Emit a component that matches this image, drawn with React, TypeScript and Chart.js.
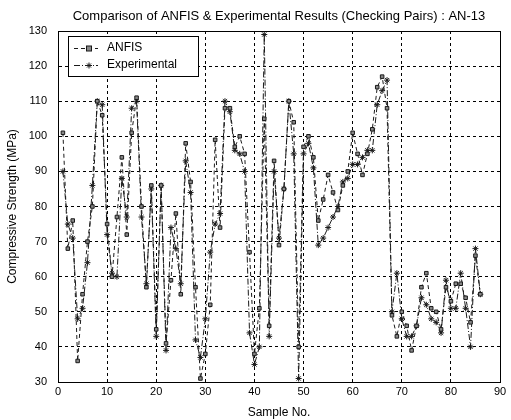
import React, { useEffect, useRef } from "react";
import { Chart, registerables } from "chart.js";

Chart.register(...registerables);

const chartTitle = "Comparison of ANFIS & Experimental Results (Checking Pairs) : AN-13";
const xAxisTitle = "Sample No.";
const yAxisTitle = "Compressive Strength (MPa)";
const seriesNames = ["ANFIS", "Experimental"];

const sampleNo = [
  1, 2, 3, 4, 5, 6, 7, 8, 9, 10, 11, 12, 13, 14, 15, 16, 17, 18, 19, 20,
  21, 22, 23, 24, 25, 26, 27, 28, 29, 30, 31, 32, 33, 34, 35, 36, 37, 38, 39, 40,
  41, 42, 43, 44, 45, 46, 47, 48, 49, 50, 51, 52, 53, 54, 55, 56, 57, 58, 59, 60,
  61, 62, 63, 64, 65, 66, 67, 68, 69, 70, 71, 72, 73, 74, 75, 76, 77, 78, 79, 80,
  81, 82, 83, 84, 85, 86,
];

const anfis = [
  101, 68, 76, 36, 55, 70, 80, 110, 106, 75, 60, 77, 94, 72, 101, 111, 80, 57, 86, 45,
  86, 41, 59, 78, 55, 98, 87, 57, 31, 38, 52, 99, 74, 108, 108, 97, 100, 95, 67, 38,
  51, 105, 46, 93, 69, 85, 110, 104, 40, 97, 100, 94, 76, 82, 89, 84, 79, 86, 90, 101,
  95, 89, 95, 102, 114, 117, 108, 49, 43, 50, 46, 39, 46, 57, 61, 51, 50, 45, 57, 53,
  58, 58, 54, 47, 66, 55,
];

const experimental = [
  90, 75, 71, 48, 51, 64, 86, 110, 109, 72, 61, 60, 88, 77, 108, 110, 77, 58, 85, 43,
  86, 39, 74, 68, 58, 93, 84, 42, 37, 48, 67, 75, 78, 110, 107, 96, 95, 90, 44, 35,
  40, 129, 43, 90, 71, 85, 110, 95, 31, 95, 98, 91, 69, 71, 74, 77, 80, 87, 88, 92,
  92, 94, 96, 96, 109, 113, 116, 50, 61, 48, 43, 43, 46, 54, 52, 48, 47, 44, 59, 51,
  51, 61, 51, 40, 68, 55,
];

const xTicks = [0, 10, 20, 30, 40, 50, 60, 70, 80, 90];
const yTicks = [30, 40, 50, 60, 70, 80, 90, 100, 110, 120, 130];

const FONT = '"Liberation Sans", Arial, Helvetica, sans-serif';
const INK = "#1a1a1a";

const ANFIS_DASH = [4, 3];
const EXP_DASH = [6, 2, 1, 2];

function drawMarker(ctx: CanvasRenderingContext2D, kind: string, x: number, y: number) {
  ctx.save();
  ctx.setLineDash([]);
  ctx.strokeStyle = INK;
  ctx.lineWidth = 1;
  if (kind === "rect") {
    ctx.fillStyle = "#888";
    ctx.fillRect(x - 2.5, y - 2.5, 5, 5);
    ctx.strokeRect(x - 2.5, y - 2.5, 5, 5);
  } else {
    ctx.beginPath();
    ctx.moveTo(x - 3, y); ctx.lineTo(x + 3, y);
    ctx.moveTo(x, y - 3); ctx.lineTo(x, y + 3);
    ctx.moveTo(x - 2, y - 2); ctx.lineTo(x + 2, y + 2);
    ctx.moveTo(x - 2, y + 2); ctx.lineTo(x + 2, y - 2);
    ctx.stroke();
  }
  ctx.restore();
}

const decorPlugin = {
  id: "decor",
  beforeDatasetsDraw(chart: any) {
    const { ctx, chartArea } = chart;
    const { left, top, right, bottom } = chartArea;
    ctx.save();
    ctx.strokeStyle = "#000";
    ctx.lineWidth = 1;
    ctx.setLineDash([]);
    ctx.strokeRect(Math.round(left) + 0.5, Math.round(top) + 0.5, Math.round(right - left), Math.round(bottom - top));
    ctx.restore();
  },
  afterDraw(chart: any) {
    const { ctx, chartArea } = chart;
    const { left, right } = chartArea;
    ctx.save();
    // title
    ctx.fillStyle = "#000";
    ctx.font = `13px ${FONT}`;
    ctx.textAlign = "center";
    ctx.textBaseline = "middle";
    ctx.fillText(chartTitle, (left + right) / 2, 16);

    // legend
    const lx = 68, ly = 36, lw = 130, lh = 40;
    ctx.fillStyle = "#fff";
    ctx.fillRect(lx, ly, lw, lh);
    ctx.strokeStyle = "#000";
    ctx.lineWidth = 1;
    ctx.strokeRect(lx + 0.5, ly + 0.5, lw, lh);
    const rows = [
      { name: seriesNames[0], dash: ANFIS_DASH, marker: "rect", y: ly + 12 },
      { name: seriesNames[1], dash: EXP_DASH, marker: "star", y: ly + 29 },
    ];
    rows.forEach((r) => {
      ctx.save();
      ctx.strokeStyle = INK;
      ctx.setLineDash(r.dash);
      ctx.beginPath();
      ctx.moveTo(74, r.y + 0.5);
      ctx.lineTo(98, r.y + 0.5);
      ctx.stroke();
      ctx.restore();
      drawMarker(ctx, r.marker, 89, r.y + 0.5);
      ctx.fillStyle = "#000";
      ctx.font = `12px ${FONT}`;
      ctx.textAlign = "left";
      ctx.textBaseline = "middle";
      ctx.fillText(r.name, 107, r.y);
    });
    ctx.restore();
  },
};

export default function App() {
  const ref = useRef<HTMLCanvasElement | null>(null);

  useEffect(() => {
    if (!ref.current) return;
    const chart = new Chart(ref.current, {
      type: "line",
      data: {
        datasets: [
          {
            label: seriesNames[0],
            data: sampleNo.map((x, i) => ({ x, y: anfis[i] })),
            borderColor: INK,
            borderWidth: 1,
            borderDash: ANFIS_DASH,
            pointStyle: "rect",
            pointRadius: 2.5,
            pointBackgroundColor: "#888",
            pointBorderColor: INK,
            pointBorderWidth: 1,
            fill: false,
            tension: 0,
          },
          {
            label: seriesNames[1],
            data: sampleNo.map((x, i) => ({ x, y: experimental[i] })),
            borderColor: INK,
            borderWidth: 1,
            borderDash: EXP_DASH,
            pointStyle: "star",
            pointRadius: 3,
            pointBackgroundColor: INK,
            pointBorderColor: INK,
            pointBorderWidth: 1,
            fill: false,
            tension: 0,
          },
        ],
      },
      options: {
        responsive: false,
        animation: false,
        events: [],
        layout: { padding: { left: 0, top: 31, right: 11, bottom: 0 } },
        plugins: {
          legend: { display: false },
          title: { display: false },
          tooltip: { enabled: false },
        },
        scales: {
          x: {
            type: "linear",
            min: 0,
            max: 90,
            afterBuildTicks: (scale: any) => {
              scale.ticks = xTicks.map((v) => ({ value: v }));
            },
            afterFit: (scale: any) => {
              scale.height = 38;
            },
            ticks: {
              color: "#000",
              font: { family: FONT, size: 11 },
              padding: 3,
              maxRotation: 0,
            },
            grid: {
              color: "#000",
              lineWidth: 1,
              drawTicks: false,
            },
            border: { display: true, color: "#000", dash: [3, 3] },
            title: {
              display: true,
              text: xAxisTitle,
              color: "#000",
              font: { family: FONT, size: 12 },
              padding: { top: 0, bottom: 0 },
            },
          },
          y: {
            type: "linear",
            min: 30,
            max: 130,
            afterBuildTicks: (scale: any) => {
              scale.ticks = yTicks.map((v) => ({ value: v }));
            },
            afterFit: (scale: any) => {
              scale.width = 58;
            },
            ticks: {
              color: "#000",
              font: { family: FONT, size: 11 },
              padding: 11,
            },
            grid: {
              color: "#000",
              lineWidth: 1,
              drawTicks: false,
            },
            border: { display: true, color: "#000", dash: [3, 3] },
            title: {
              display: true,
              text: yAxisTitle,
              color: "#000",
              font: { family: FONT, size: 12 },
              padding: { top: 5, bottom: 0 },
            },
          },
        },
      },
      plugins: [decorPlugin],
    } as any);
    return () => chart.destroy();
  }, []);

  return (
    <div style={{ position: "fixed", left: 0, top: 0, width: 511, height: 420, background: "#fff" }}>
      <canvas ref={ref} width={511} height={420} style={{ display: "block", width: 511, height: 420 }} />
    </div>
  );
}
